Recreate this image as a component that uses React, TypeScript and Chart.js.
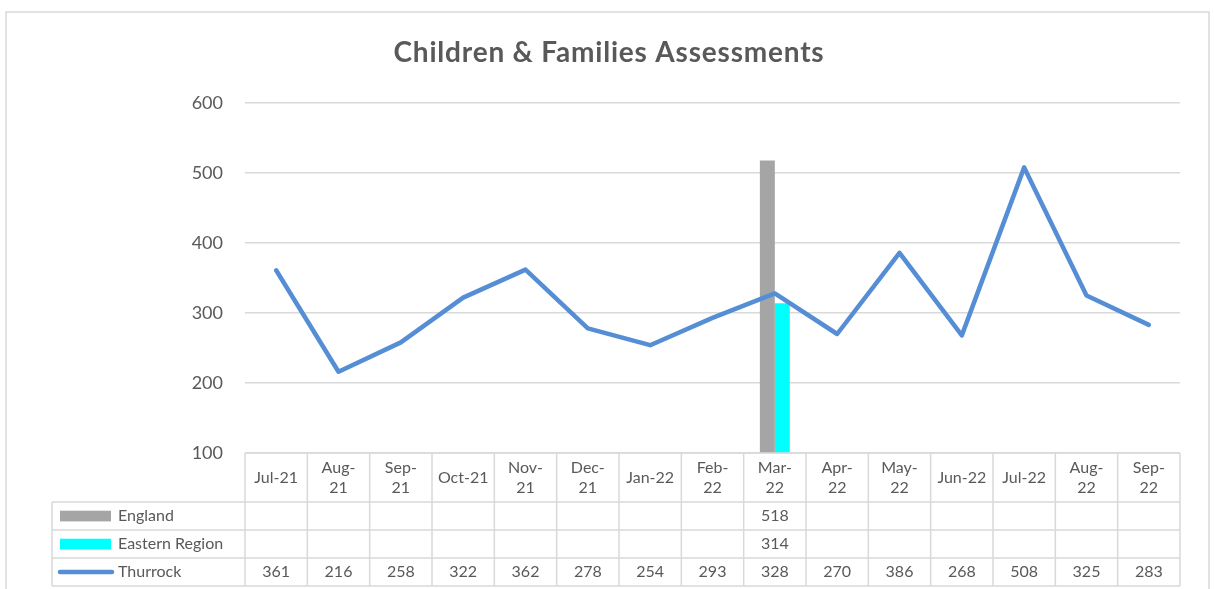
import React, { useEffect, useRef } from 'react';
import { Chart, registerables } from 'chart.js';

Chart.register(...registerables);

const chartTitle = 'Children & Families Assessments';
const headerLabels: string[][] = [
  ['Jul-21'], ['Aug-', '21'], ['Sep-', '21'], ['Oct-21'], ['Nov-', '21'], ['Dec-', '21'],
  ['Jan-22'], ['Feb-', '22'], ['Mar-', '22'], ['Apr-', '22'], ['May-', '22'], ['Jun-22'],
  ['Jul-22'], ['Aug-', '22'], ['Sep-', '22'],
];
const categories: string[] = headerLabels.map((l) => l.join(''));
const seriesNames = ['England', 'Eastern Region', 'Thurrock'];
const england: (number | null)[] = [null, null, null, null, null, null, null, null, 518, null, null, null, null, null, null];
const easternRegion: (number | null)[] = [null, null, null, null, null, null, null, null, 314, null, null, null, null, null, null];
const thurrock: number[] = [361, 216, 258, 322, 362, 278, 254, 293, 328, 270, 386, 268, 508, 325, 283];
const yMin = 100;
const yMax = 600;
const yStep = 100;

const TEXT = '#595959';
const GRID = '#d9d9d9';
const GREY = '#a5a5a5';
const CYAN = '#00ffff';
const BLUE = '#558ed5';
const FONT = 'Lato, "Open Sans", sans-serif';

const tablePlugin = {
  id: 'excelTable',
  afterDraw(chart: any) {
    const ctx = chart.ctx as CanvasRenderingContext2D;
    const area = chart.chartArea;
    const n = categories.length;
    const w = (area.right - area.left) / n;
    const top = area.bottom;
    const headerBottom = top + 49;
    const rowH = 28;
    const tableLeft = 52;
    const rows = [headerBottom, headerBottom + rowH, headerBottom + 2 * rowH, headerBottom + 3 * rowH];

    ctx.save();
    // outer chart border
    ctx.strokeStyle = GRID;
    ctx.lineWidth = 1.5;
    ctx.strokeRect(6, 12, 1203, 640);

    // title
    ctx.fillStyle = TEXT;
    ctx.font = `bold 28px ${FONT}`;
    ctx.textAlign = 'center';
    ctx.textBaseline = 'middle';
    (ctx as any).letterSpacing = '0.8px';
    ctx.fillText(chartTitle, 609, 53);
    (ctx as any).letterSpacing = '0px';

    // table grid
    ctx.strokeStyle = GRID;
    ctx.lineWidth = 1.5;
    ctx.beginPath();
    ctx.moveTo(area.left, top);
    ctx.lineTo(area.right, top);
    for (const y of rows) {
      ctx.moveTo(tableLeft, y);
      ctx.lineTo(area.right, y);
    }
    for (let i = 0; i <= n; i++) {
      const x = area.left + i * w;
      ctx.moveTo(x, top);
      ctx.lineTo(x, rows[3]);
    }
    ctx.moveTo(tableLeft, rows[0]);
    ctx.lineTo(tableLeft, rows[3]);
    ctx.stroke();

    // header labels
    ctx.fillStyle = TEXT;
    ctx.font = `16px ${FONT}`;
    ctx.textAlign = 'center';
    ctx.textBaseline = 'middle';
    const xScale = chart.scales.x;
    for (let i = 0; i < n; i++) {
      const cx = xScale.getPixelForValue(i);
      const lines = headerLabels[i];
      const mid = (top + headerBottom) / 2;
      if (lines.length === 1) {
        ctx.fillText(lines[0], cx, mid);
      } else {
        ctx.fillText(lines[0], cx, mid - 10);
        ctx.fillText(lines[1], cx, mid + 10);
      }
    }

    // values
    const seriesData = [england, easternRegion, thurrock];
    for (let r = 0; r < 3; r++) {
      const cy = (rows[r] + rows[r + 1]) / 2;
      for (let i = 0; i < n; i++) {
        const v = seriesData[r][i];
        if (v !== null && v !== undefined) {
          ctx.fillText(String(v), xScale.getPixelForValue(i), cy);
        }
      }
      // legend keys
      if (r === 0 || r === 1) {
        ctx.fillStyle = r === 0 ? GREY : CYAN;
        ctx.fillRect(60, cy - 5.3, 51, 10.7);
      } else {
        ctx.strokeStyle = BLUE;
        ctx.lineWidth = 4.5;
        ctx.lineCap = 'round';
        ctx.beginPath();
        ctx.moveTo(60, cy);
        ctx.lineTo(112, cy);
        ctx.stroke();
      }
      ctx.fillStyle = TEXT;
      ctx.textAlign = 'left';
      ctx.fillText(seriesNames[r], 118, cy);
      ctx.textAlign = 'center';
    }
    ctx.restore();
  },
};

export default function App() {
  const ref = useRef<HTMLCanvasElement | null>(null);
  useEffect(() => {
    if (!ref.current) return;
    const chart = new Chart(ref.current, {
      type: 'bar',
      data: {
        labels: categories,
        datasets: [
          {
            type: 'bar',
            label: seriesNames[0],
            data: england,
            backgroundColor: GREY,
            order: 1,
            categoryPercentage: 0.48,
            barPercentage: 1,
          },
          {
            type: 'bar',
            label: seriesNames[1],
            data: easternRegion,
            backgroundColor: CYAN,
            order: 1,
            categoryPercentage: 0.48,
            barPercentage: 1,
          },
          {
            type: 'line',
            label: seriesNames[2],
            data: thurrock,
            borderColor: BLUE,
            backgroundColor: BLUE,
            borderWidth: 4.5,
            pointRadius: 0,
            borderCapStyle: 'round',
            borderJoinStyle: 'round',
            tension: 0,
            order: 0,
          } as any,
        ],
      },
      options: {
        animation: false,
        responsive: true,
        maintainAspectRatio: false,
        layout: { padding: { top: 103, bottom: 136, left: 0, right: 34 } },
        plugins: {
          legend: { display: false },
          title: { display: false },
          tooltip: { enabled: false },
        },
        scales: {
          x: {
            type: 'category',
            display: false,
            offset: true,
          },
          y: {
            min: yMin,
            max: yMax,
            afterFit: (scale: any) => {
              scale.width = 245;
            },
            ticks: {
              stepSize: yStep,
              color: TEXT,
              font: { family: FONT, size: 18 },
              padding: 22,
            },
            grid: { color: GRID, lineWidth: 1.5, drawTicks: false },
            border: { display: false },
          },
        },
      },
      plugins: [tablePlugin],
    } as any);
    return () => chart.destroy();
  }, []);
  return (
    <div style={{ position: 'fixed', left: 0, top: 0, width: 1214, height: 589, background: '#fff' }}>
      <canvas ref={ref} />
    </div>
  );
}
